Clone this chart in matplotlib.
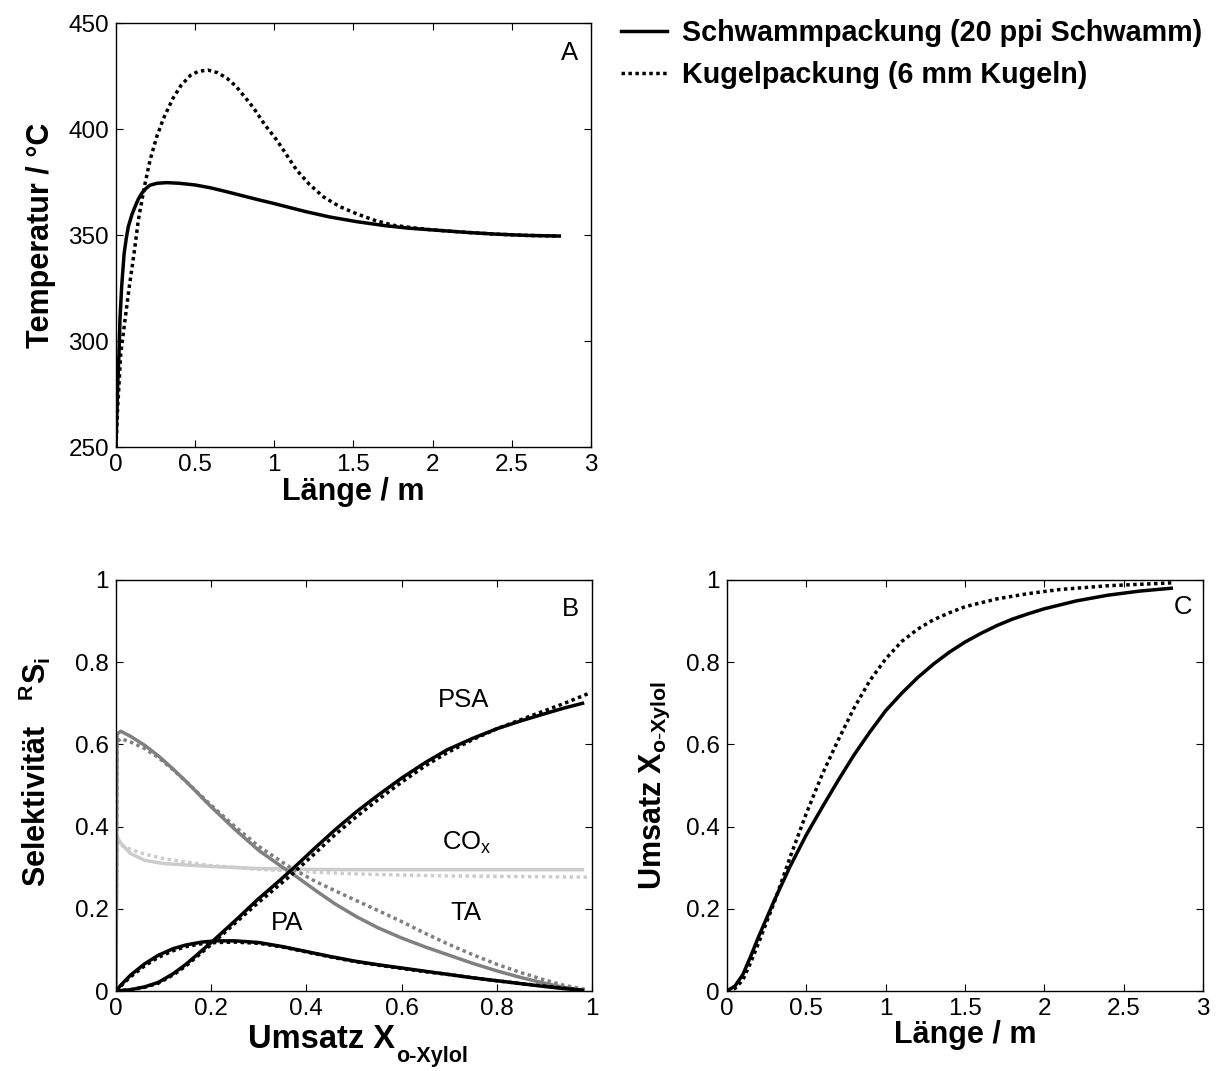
import matplotlib
matplotlib.use("Agg")
import matplotlib.pyplot as plt

plt.rcParams['font.family'] = ['Liberation Sans', 'DejaVu Sans']
plt.rcParams['mathtext.fontset'] = 'custom'
plt.rcParams['mathtext.rm'] = 'Liberation Sans'
plt.rcParams['mathtext.bf'] = 'Liberation Sans:bold'
plt.rcParams['mathtext.it'] = 'Liberation Sans:italic'

# ---------------- Data ----------------
# Panel A: temperature vs length
a_len_sponge = [0.0, 0.004, 0.012, 0.019, 0.025, 0.036, 0.051, 0.065, 0.078, 0.1, 0.12, 0.14, 0.162,
                0.19, 0.215, 0.26, 0.32, 0.4, 0.5, 0.6, 0.7, 0.8, 0.9, 0.99, 1.1, 1.2, 1.35, 1.52,
                1.7, 1.85, 2.0, 2.2, 2.4, 2.6, 2.8]
a_temp_sponge = [250, 262, 282, 294, 310, 326, 341, 348.5, 354, 359.5, 363.3, 366.8, 369.6,
                 372, 373.5, 374.4, 374.7, 374.4, 373.6, 372.2, 370.4, 368.5, 366.6, 365.0, 362.9, 361.0, 358.5, 356.3,
                 354.4, 353.2, 352.4, 351.3, 350.4, 349.8, 349.5]
a_len_sphere = [0.0, 0.01, 0.03, 0.057, 0.084, 0.114, 0.141, 0.179, 0.215, 0.257, 0.3, 0.36, 0.41, 0.47,
                0.52, 0.58, 0.64, 0.7, 0.76, 0.82, 0.87, 0.94, 1.015, 1.08, 1.14, 1.22, 1.31, 1.41,
                1.52, 1.63, 1.75, 1.9, 2.0, 2.2, 2.4, 2.6, 2.8]
a_temp_sphere = [250, 268, 294, 310, 325.6, 341.3, 357, 372.7, 385.3, 396.3, 405, 414.5, 420.5, 425.3,
                 427.2, 427.8, 426.6, 424, 420, 414.5, 409.8, 402, 394.8, 387.5, 380.7, 374, 368, 363.5,
                 360, 357, 354.6, 353.2, 352.4, 351.3, 350.4, 349.8, 349.5]

# Panel B: selectivity vs conversion
b_x_psa = [0.0, 0.03, 0.06, 0.089, 0.12, 0.147, 0.2, 0.255, 0.297, 0.339, 0.37, 0.42, 0.46, 0.505,
           0.55, 0.6, 0.65, 0.696, 0.75, 0.8, 0.85, 0.896, 0.94, 0.98]
b_psa_sponge = [0.0, 0.003, 0.01, 0.021, 0.042, 0.065, 0.118, 0.176, 0.222, 0.264, 0.296, 0.35, 0.392, 0.436,
                0.476, 0.518, 0.556, 0.587, 0.615, 0.638, 0.657, 0.673, 0.688, 0.70]
b_x_psa_sphere = [0.0, 0.03, 0.06, 0.089, 0.12, 0.147, 0.2, 0.255, 0.297, 0.339, 0.37, 0.42, 0.46, 0.505,
                  0.55, 0.6, 0.65, 0.696, 0.75, 0.8, 0.85, 0.896, 0.94, 0.995]
b_psa_sphere = [0.0, 0.003, 0.009, 0.019, 0.039, 0.061, 0.113, 0.17, 0.213, 0.254, 0.284, 0.337, 0.38, 0.424,
                0.465, 0.508, 0.548, 0.58, 0.612, 0.638, 0.66, 0.68, 0.699, 0.725]

b_x_pa = [0.0, 0.01, 0.03, 0.06, 0.089, 0.12, 0.147, 0.18, 0.21, 0.25, 0.3, 0.35, 0.4, 0.45, 0.505,
          0.55, 0.6, 0.65, 0.7, 0.75, 0.8, 0.85, 0.9, 0.94, 0.98]
b_pa_sponge = [0.0, 0.014, 0.038, 0.066, 0.087, 0.103, 0.112, 0.119, 0.122, 0.122, 0.118, 0.108, 0.096,
               0.084, 0.072, 0.064, 0.056, 0.048, 0.040, 0.032, 0.025, 0.018, 0.011, 0.006, 0.002]
b_pa_sphere = [0.0, 0.012, 0.034, 0.061, 0.082, 0.098, 0.108, 0.115, 0.118, 0.119, 0.116, 0.107, 0.095,
               0.083, 0.071, 0.063, 0.055, 0.047, 0.040, 0.032, 0.025, 0.018, 0.012, 0.007, 0.002]

b_x_ta = [0.0, 0.002, 0.01, 0.03, 0.06, 0.089, 0.12, 0.147, 0.2, 0.25, 0.3, 0.35, 0.37, 0.42, 0.46,
          0.505, 0.55, 0.6, 0.65, 0.7, 0.75, 0.8, 0.85, 0.9, 0.94, 0.98]
b_ta_sponge = [0.0, 0.625, 0.632, 0.62, 0.598, 0.572, 0.54, 0.51, 0.448, 0.393, 0.342, 0.301, 0.286,
               0.244, 0.212, 0.181, 0.154, 0.129, 0.107, 0.087, 0.067, 0.049, 0.033, 0.019, 0.009, 0.002]
b_x_ta_sphere = [0.0, 0.002, 0.01, 0.03, 0.06, 0.089, 0.12, 0.147, 0.2, 0.25, 0.3, 0.35, 0.37, 0.42, 0.46,
                 0.505, 0.55, 0.6, 0.65, 0.7, 0.75, 0.8, 0.85, 0.9, 0.94, 0.99]
b_ta_sphere = [0.0, 0.606, 0.614, 0.606, 0.59, 0.568, 0.538, 0.51, 0.452, 0.4, 0.352, 0.313, 0.298,
               0.266, 0.244, 0.22, 0.196, 0.169, 0.14, 0.113, 0.088, 0.065, 0.045, 0.027, 0.014, 0.003]

b_x_cox = [0.0, 0.002, 0.01, 0.03, 0.06, 0.1, 0.2, 0.3, 0.4, 0.5, 0.6, 0.7, 0.8, 0.9, 0.98]
b_cox_sponge = [0.0, 0.375, 0.36, 0.335, 0.318, 0.31, 0.303, 0.298, 0.296, 0.295, 0.295, 0.295, 0.295,
                0.295, 0.295]
b_x_cox_sphere = [0.0, 0.002, 0.01, 0.03, 0.06, 0.1, 0.2, 0.3, 0.4, 0.5, 0.6, 0.7, 0.8, 0.9, 0.99]
b_cox_sphere = [0.0, 0.36, 0.355, 0.345, 0.333, 0.322, 0.305, 0.296, 0.29, 0.285, 0.282, 0.28, 0.279,
                0.278, 0.277]

# Panel C: conversion vs length
c_len_sponge = [0.0, 0.05, 0.1, 0.15, 0.2, 0.3, 0.4, 0.5, 0.6, 0.7, 0.8, 0.9, 1.0, 1.1, 1.2, 1.3, 1.4,
                1.5, 1.6, 1.7, 1.8, 1.9, 2.0, 2.2, 2.4, 2.6, 2.8]
c_x_sponge = [0.0, 0.012, 0.04, 0.085, 0.133, 0.222, 0.305, 0.38, 0.447, 0.512, 0.574, 0.63, 0.682,
              0.724, 0.762, 0.795, 0.824, 0.849, 0.87, 0.889, 0.905, 0.918, 0.93, 0.949, 0.963, 0.973, 0.98]
c_len_sphere = [0.0, 0.05, 0.1, 0.15, 0.2, 0.3, 0.4, 0.5, 0.6, 0.7, 0.8, 0.9, 1.0, 1.1, 1.2, 1.3, 1.4,
                1.5, 1.7, 1.9, 2.1, 2.4, 2.8]
c_x_sphere = [0.0, 0.006, 0.027, 0.07, 0.118, 0.218, 0.328, 0.432, 0.527, 0.61, 0.688, 0.755, 0.808,
              0.85, 0.88, 0.903, 0.92, 0.935, 0.954, 0.967, 0.977, 0.986, 0.993]

legend_labels = ['Schwammpackung (20 ppi Schwamm)', 'Kugelpackung (6 mm Kugeln)']

# ---------------- Figure ----------------
W, H = 1219, 1071
fig = plt.figure(figsize=(W / 100, H / 100), dpi=100)

def rect(l, t, r, b):
    return [l / W, 1 - b / H, (r - l) / W, (b - t) / H]

axA = fig.add_axes(rect(116, 23, 591, 447))
axB = fig.add_axes(rect(116, 580, 592, 991))
axC = fig.add_axes(rect(727, 580, 1203, 991))

TICK_FS = 17.5
LAB_FS = 22
TXT_FS = 18.5
LW = 2.5
DOT = (0, (1, 1.0))

for ax in (axA, axB, axC):
    ax.tick_params(direction='in', top=True, right=True, length=5, width=0.8,
                   labelsize=TICK_FS, pad=5)
    for s in ax.spines.values():
        s.set_linewidth(1.0)

# Panel A
l1, = axA.plot(a_len_sponge, a_temp_sponge, color='black', lw=LW)
l2, = axA.plot(a_len_sphere, a_temp_sphere, color='black', lw=LW, linestyle=DOT)
axA.set_xlim(0, 3)
axA.set_ylim(250, 450)
axA.set_xticks([0, 0.5, 1, 1.5, 2, 2.5, 3])
axA.set_xticklabels(['0', '0.5', '1', '1.5', '2', '2.5', '3'])
axA.set_yticks([250, 300, 350, 400, 450])
axA.set_xlabel('Länge / m', fontsize=LAB_FS, fontweight='bold', va='center')
axA.xaxis.set_label_coords(0.5, -0.105)
axA.set_ylabel('Temperatur / °C', fontsize=LAB_FS, fontweight='bold', va='center')
axA.yaxis.set_label_coords(-0.158, 0.5)
axA.text(0.954, 0.929, 'A', transform=axA.transAxes, fontsize=TXT_FS, ha='center', va='center')

# Panel B
gray_ta = '#808080'
gray_cox = '#cccccc'
axB.plot(b_x_cox, b_cox_sponge, color=gray_cox, lw=LW)
axB.plot(b_x_cox_sphere, b_cox_sphere, color=gray_cox, lw=LW, linestyle=DOT)
axB.plot(b_x_ta, b_ta_sponge, color=gray_ta, lw=LW)
axB.plot(b_x_ta_sphere, b_ta_sphere, color=gray_ta, lw=LW, linestyle=DOT)
axB.plot(b_x_psa, b_psa_sponge, color='black', lw=LW)
axB.plot(b_x_psa_sphere, b_psa_sphere, color='black', lw=LW, linestyle=DOT)
axB.plot(b_x_pa, b_pa_sponge, color='black', lw=LW)
axB.plot(b_x_pa, b_pa_sphere, color='black', lw=LW, linestyle=DOT)
axB.set_xlim(0, 1)
axB.set_ylim(0, 1)
axB.set_xticks([0, 0.2, 0.4, 0.6, 0.8, 1])
axB.set_xticklabels(['0', '0.2', '0.4', '0.6', '0.8', '1'])
axB.set_yticks([0, 0.2, 0.4, 0.6, 0.8, 1])
axB.set_yticklabels(['0', '0.2', '0.4', '0.6', '0.8', '1'])
axB.set_xlabel('Umsatz X', fontsize=23.5, fontweight='bold', va='center')
axB.xaxis.set_label_coords(0.432, -0.117)
axB.annotate('o-Xylol', xy=(1, 0), xycoords=axB.xaxis.label, xytext=(0.5, 6.5),
             textcoords='offset points', ha='left', va='top', fontsize=15.5, fontweight='bold',
             annotation_clip=False)
axB.set_ylabel(r'Selektivität   $^{\mathbf{R}}\mathbf{S}_{\mathbf{i}}$', fontsize=LAB_FS, fontweight='bold',
               va='center')
axB.yaxis.set_label_coords(-0.17, 0.533)
axB.text(0.954, 0.93, 'B', transform=axB.transAxes, fontsize=TXT_FS, ha='center', va='center')
axB.text(0.731, 0.709, 'PSA', fontsize=TXT_FS, ha='center', va='center')
axB.text(0.738, 0.36, r'CO$_{\mathregular{x}}$', fontsize=TXT_FS, ha='center', va='center')
axB.text(0.734, 0.189, 'TA', fontsize=TXT_FS, ha='center', va='center')
axB.text(0.359, 0.165, 'PA', fontsize=TXT_FS, ha='center', va='center')

# Panel C
axC.plot(c_len_sponge, c_x_sponge, color='black', lw=LW)
axC.plot(c_len_sphere, c_x_sphere, color='black', lw=LW, linestyle=DOT)
axC.set_xlim(0, 3)
axC.set_ylim(0, 1)
axC.set_xticks([0, 0.5, 1, 1.5, 2, 2.5, 3])
axC.set_xticklabels(['0', '0.5', '1', '1.5', '2', '2.5', '3'])
axC.set_yticks([0, 0.2, 0.4, 0.6, 0.8, 1])
axC.set_yticklabels(['0', '0.2', '0.4', '0.6', '0.8', '1'])
axC.set_xlabel('Länge / m', fontsize=LAB_FS, fontweight='bold', va='center')
axC.xaxis.set_label_coords(0.5, -0.108)
axC.set_ylabel(r'Umsatz X$_{\mathbf{o\text{-}Xylol}}$', fontsize=LAB_FS, fontweight='bold', va='center')
axC.yaxis.set_label_coords(-0.151, 0.5)
axC.text(0.957, 0.935, 'C', transform=axC.transAxes, fontsize=TXT_FS, ha='center', va='center')

# Legend
LEG_FS = 20.7
fig.legend([l1, l2], legend_labels, loc='upper left', bbox_to_anchor=(621 / W, 1 - 19 / H),
           frameon=False, prop={'weight': 'bold', 'size': LEG_FS},
           handlelength=1.6, handletextpad=0.52, labelspacing=0.5, borderaxespad=0, borderpad=0)

fig.savefig('out.png', dpi=100)
